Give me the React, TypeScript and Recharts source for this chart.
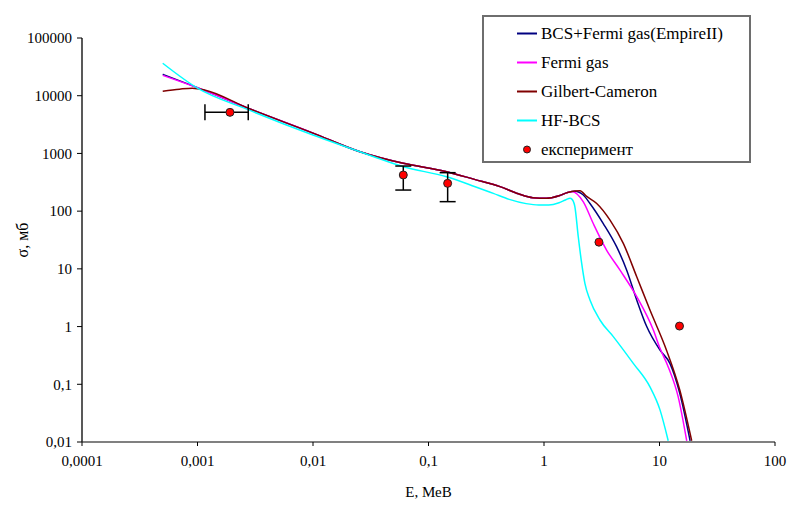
import React from 'react';
import { ComposedChart, Line, Scatter, XAxis, YAxis, ErrorBar, Legend } from 'recharts';

const X_TICKS = [0.0001, 0.001, 0.01, 0.1, 1, 10, 100];
const Y_TICKS = [0.01, 0.1, 1, 10, 100, 1000, 10000, 100000];

const SERIES_NAMES = ['BCS+Fermi gas(EmpireII)', 'Fermi gas', 'Gilbert-Cameron', 'HF-BCS', 'експеримент'];
const SERIES_COLORS = ['#000080', '#FF00FF', '#800000', '#00FFFF', '#FF0000'];

// BCS+Fermi gas (EmpireII)
const bcsE = [0.0005, 0.001, 0.0027, 0.01, 0.0255, 0.0605, 0.1435, 0.25, 0.416, 0.6, 0.8, 1.05, 1.35, 1.6, 1.85, 2.19, 2.5, 3.26, 4.26, 5.2, 6.35, 7.75, 10.1, 12.3, 15.0, 18.4];
const bcsSigma = [23500, 13800, 6150, 2250, 1070, 673, 482, 355, 266, 200, 171, 167, 185, 210, 222, 190, 136, 61, 24, 9.5, 2.9, 1.0, 0.39, 0.23, 0.069, 0.0105];

// Fermi gas
const fgE = [0.0005, 0.001, 0.0027, 0.01, 0.0255, 0.0605, 0.1435, 0.25, 0.416, 0.6, 0.8, 1.05, 1.35, 1.6, 1.75, 2.19, 2.67, 3.49, 4.55, 6.35, 8.84, 10.1, 11.9, 14.5, 17.2];
const fgSigma = [22500, 13700, 6150, 2250, 1070, 673, 482, 355, 266, 200, 171, 167, 185, 210, 220, 145, 61, 21, 9.5, 3.3, 0.87, 0.42, 0.2, 0.061, 0.0105];

// Gilbert-Cameron
const gcE = [0.0005, 0.0007, 0.0009, 0.00115, 0.0027, 0.01, 0.0255, 0.0605, 0.1435, 0.25, 0.416, 0.6, 0.8, 1.05, 1.35, 1.6, 1.85, 2.05, 2.34, 2.86, 3.73, 4.86, 6.35, 8.27, 11.5, 15.0, 19.0];
const gcSigma = [12000, 13000, 13500, 12600, 6150, 2250, 1070, 673, 482, 355, 266, 200, 171, 167, 185, 210, 224, 226, 180, 136, 70, 27.7, 7.3, 1.93, 0.39, 0.079, 0.0105];

// HF-BCS
const hfE = [0.0005, 0.001, 0.0027, 0.01, 0.031, 0.0605, 0.1435, 0.25, 0.364, 0.5, 0.7, 0.9, 1.1, 1.35, 1.55, 1.68, 1.75, 1.85, 1.98, 2.12, 2.26, 2.5, 3.05, 3.98, 5.93, 8.27, 10.1, 11.9];
const hfSigma = [36500, 13500, 5800, 2080, 930, 588, 394, 268, 203, 160, 135, 128, 128, 140, 158, 167, 160, 120, 36, 12.4, 5.6, 2.9, 1.3, 0.67, 0.23, 0.09, 0.036, 0.0105];

// експеримент
const expE = [0.00191, 0.0605, 0.1465, 2.99, 14.9];
const expSigma = [5150, 423, 303, 29, 1.02];
const expErrE = [[0.00075, 0.00084], null, null, null, null];
const expErrSigma = [null, [191, 182], [157, 161], null, null];

const zip = (xs: number[], ys: number[]) => xs.map((x, i) => ({ x, y: ys[i] }));

const bcsData = zip(bcsE, bcsSigma);
const fgData = zip(fgE, fgSigma);
const gcData = zip(gcE, gcSigma);
const hfData = zip(hfE, hfSigma);
const expData = expE.map((x, i) => ({
  x,
  y: expSigma[i],
  ex: expErrE[i] ?? undefined,
  ey: expErrSigma[i] ?? undefined,
}));

const FONT = 'Liberation Serif, DejaVu Serif, serif';
const fmt = (v: number) => String(v).replace('.', ',');

const LegendBox = () => (
  <div
    style={{
      width: '100%',
      height: '100%',
      boxSizing: 'border-box',
      border: '2px solid #6e6e6e',
      background: '#fff',
      fontFamily: FONT,
      fontSize: 17,
      color: '#000',
      paddingTop: 2,
    }}
  >
    {SERIES_NAMES.map((name, i) => (
      <div key={name} style={{ height: 29, display: 'flex', alignItems: 'center', whiteSpace: 'nowrap' }}>
        <svg width={57} height={29} style={{ flex: 'none' }}>
          {i < 4 ? (
            <line x1={33} x2={53} y1={14.5} y2={14.5} stroke={SERIES_COLORS[i]} strokeWidth={2} />
          ) : (
            <circle cx={43} cy={14.5} r={3.5} fill={SERIES_COLORS[i]} stroke="#222" strokeWidth={1} />
          )}
        </svg>
        <span style={{ fontFamily: FONT }}>{name}</span>
      </div>
    ))}
  </div>
);

const ExpDot = (props: any) => {
  const { cx, cy } = props;
  return <circle cx={cx} cy={cy} r={4} fill="#FF0000" stroke="#222" strokeWidth={1} />;
};

export default function App() {
  return (
    <div style={{ position: 'absolute', left: 0, top: 0, width: 793, height: 509, background: '#fff', fontFamily: FONT }}>
      <ComposedChart width={793} height={509} margin={{ top: 38, right: 18, bottom: 0, left: 0 }} style={{ fontFamily: FONT }}>
        <XAxis
          dataKey="x"
          type="number"
          scale="log"
          domain={[0.0001, 100]}
          allowDataOverflow
          ticks={X_TICKS}
          tickFormatter={fmt}
          height={67}
          tickSize={4}
          tickMargin={9}
          axisLine={{ stroke: '#808080', strokeWidth: 2 }}
          tickLine={{ stroke: '#000', strokeWidth: 1 }}
          tick={{ fill: '#000', fontSize: 15, fontFamily: FONT, style: { fontFamily: FONT } }}
          label={{ value: 'E, МеВ', position: 'insideBottom', offset: 12, fill: '#000', fontSize: 15, style: { fontFamily: FONT } }}
        />
        <YAxis
          dataKey="y"
          type="number"
          scale="log"
          domain={[0.01, 100000]}
          allowDataOverflow
          ticks={Y_TICKS}
          tickFormatter={fmt}
          width={82}
          tickSize={5}
          tickMargin={5}
          axisLine={{ stroke: '#222', strokeWidth: 1.5 }}
          tickLine={{ stroke: '#000', strokeWidth: 1 }}
          tick={{ fill: '#000', fontSize: 15, fontFamily: FONT, style: { fontFamily: FONT } }}
          label={{ value: 'σ, мб', angle: -90, position: 'insideLeft', offset: 22, fill: '#000', fontSize: 16, style: { textAnchor: 'middle', fontFamily: FONT } }}
        />
        <Legend
          layout="vertical"
          align="center"
          verticalAlign="middle"
          content={() => <LegendBox />}
          wrapperStyle={{ left: 482, top: 15, width: 269, height: 148 }}
        />
        <Line name={SERIES_NAMES[0]} data={bcsData} dataKey="y" type="monotone" stroke={SERIES_COLORS[0]} strokeWidth={1.5} dot={false} isAnimationActive={false} />
        <Line name={SERIES_NAMES[1]} data={fgData} dataKey="y" type="monotone" stroke={SERIES_COLORS[1]} strokeWidth={1.5} dot={false} isAnimationActive={false} />
        <Line name={SERIES_NAMES[2]} data={gcData} dataKey="y" type="monotone" stroke={SERIES_COLORS[2]} strokeWidth={1.5} dot={false} isAnimationActive={false} />
        <Line name={SERIES_NAMES[3]} data={hfData} dataKey="y" type="monotone" stroke={SERIES_COLORS[3]} strokeWidth={1.5} dot={false} isAnimationActive={false} />
        <Scatter name={SERIES_NAMES[4]} data={expData} dataKey="y" shape={ExpDot} isAnimationActive={false}>
          <ErrorBar dataKey="ex" direction="x" width={8} stroke="#000" strokeWidth={1.5} isAnimationActive={false} />
          <ErrorBar dataKey="ey" direction="y" width={8} stroke="#000" strokeWidth={1.5} isAnimationActive={false} />
        </Scatter>
      </ComposedChart>
    </div>
  );
}
